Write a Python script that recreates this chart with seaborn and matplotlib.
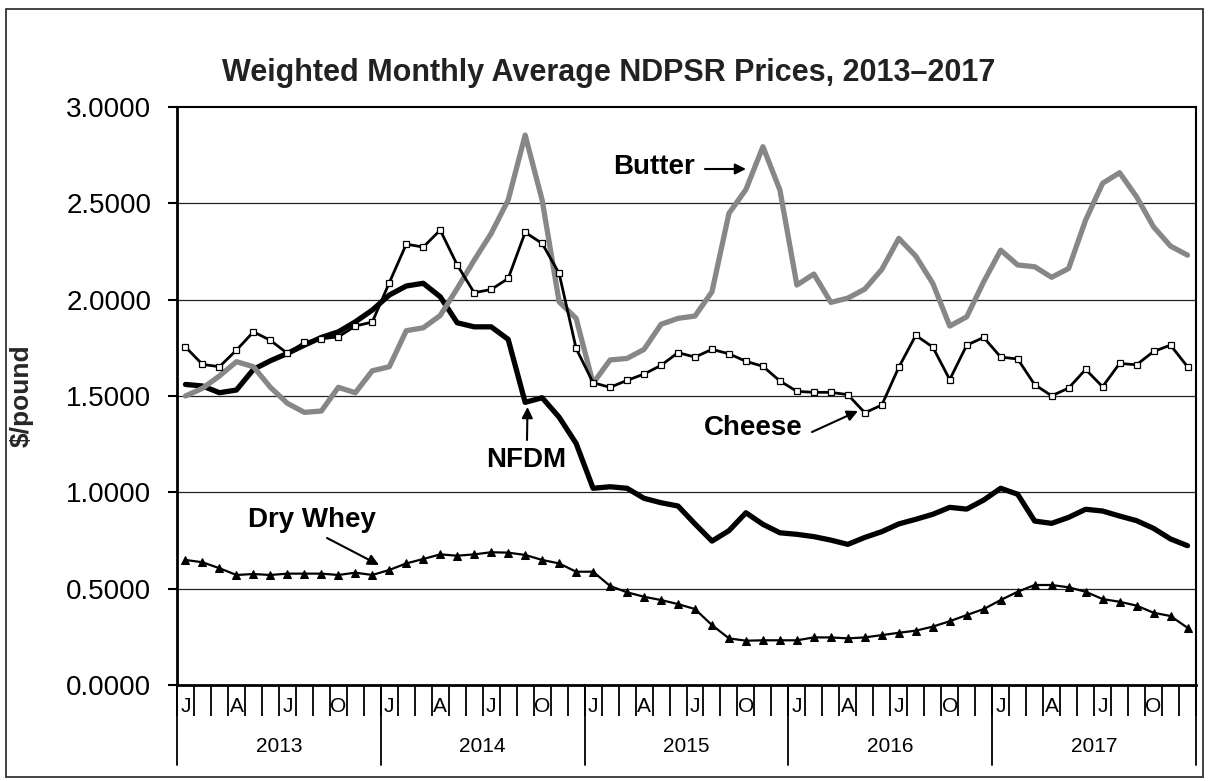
import matplotlib
matplotlib.use("Agg")
import matplotlib.pyplot as plt
import matplotlib.transforms as mtransforms
from matplotlib.lines import Line2D
from matplotlib.patches import Rectangle
import numpy as np
import pandas as pd
import seaborn as sns

# ---------------- data ----------------
years = ["2013", "2014", "2015", "2016", "2017"]
month_letters = ["J", "", "", "A", "", "", "J", "", "", "O", "", ""]

butter = [1.500, 1.540, 1.604, 1.678, 1.652, 1.545, 1.462, 1.415, 1.422, 1.545, 1.517, 1.631,
          1.652, 1.839, 1.854, 1.918, 2.058, 2.205, 2.344, 2.517, 2.854, 2.517, 1.989, 1.903,
          1.566, 1.687, 1.695, 1.742, 1.872, 1.903, 1.915, 2.041, 2.448, 2.572, 2.794, 2.569,
          2.076, 2.133, 1.986, 2.008, 2.055, 2.157, 2.318, 2.226, 2.085, 1.863, 1.911, 2.093,
          2.257, 2.180, 2.171, 2.116, 2.162, 2.413, 2.604, 2.659, 2.534, 2.378, 2.278, 2.231]

cheese = [1.754, 1.664, 1.652, 1.738, 1.833, 1.789, 1.721, 1.778, 1.797, 1.807, 1.863, 1.884,
          2.088, 2.288, 2.273, 2.361, 2.180, 2.036, 2.053, 2.110, 2.349, 2.292, 2.136, 1.747,
          1.569, 1.545, 1.581, 1.614, 1.659, 1.725, 1.702, 1.742, 1.719, 1.680, 1.654, 1.578,
          1.524, 1.519, 1.519, 1.507, 1.413, 1.453, 1.649, 1.815, 1.754, 1.585, 1.764, 1.804,
          1.702, 1.692, 1.559, 1.501, 1.541, 1.638, 1.548, 1.669, 1.662, 1.731, 1.764, 1.652]

nfdm = [1.560, 1.552, 1.517, 1.531, 1.638, 1.683, 1.721, 1.764, 1.804, 1.833, 1.885, 1.946,
        2.024, 2.071, 2.085, 2.015, 1.880, 1.859, 1.859, 1.794, 1.467, 1.491, 1.390, 1.254,
        1.021, 1.029, 1.021, 0.969, 0.946, 0.929, 0.836, 0.747, 0.801, 0.894, 0.834, 0.790,
        0.782, 0.770, 0.752, 0.730, 0.766, 0.796, 0.836, 0.860, 0.886, 0.922, 0.913, 0.960,
        1.021, 0.990, 0.851, 0.839, 0.870, 0.912, 0.903, 0.877, 0.853, 0.813, 0.758, 0.723]

dry_whey = [0.649, 0.637, 0.606, 0.571, 0.576, 0.571, 0.578, 0.578, 0.578, 0.571, 0.583, 0.571,
            0.597, 0.631, 0.654, 0.678, 0.671, 0.678, 0.689, 0.687, 0.675, 0.649, 0.631, 0.588,
            0.588, 0.514, 0.481, 0.458, 0.441, 0.420, 0.394, 0.311, 0.242, 0.230, 0.232, 0.232,
            0.232, 0.247, 0.247, 0.242, 0.247, 0.259, 0.271, 0.282, 0.303, 0.331, 0.363, 0.394,
            0.441, 0.484, 0.519, 0.519, 0.507, 0.484, 0.446, 0.432, 0.412, 0.375, 0.358, 0.297]

yticks = [0.0, 0.5, 1.0, 1.5, 2.0, 2.5, 3.0]
title = "Weighted Monthly Average NDPSR Prices, 2013\u20132017"

n = len(butter)
months = np.arange(n)
df = pd.DataFrame({"month": months, "Butter": butter, "Cheese": cheese,
                   "NFDM": nfdm, "Dry Whey": dry_whey})

# ---------------- style ----------------
sns.set_theme(style="white")
plt.rcParams["font.family"] = ["Liberation Sans", "DejaVu Sans"]

W, H = 1209, 781
fig = plt.figure(figsize=(W / 100, H / 100), dpi=100)
fig.patch.set_facecolor("white")
ax = fig.add_axes([177 / W, (H - 685) / H, 1019 / W, 578 / H])
ax.set_facecolor("white")

# figure border
fig.patches.append(Rectangle((6 / W, (H - 777) / H), 1197 / W, 768 / H,
                             transform=fig.transFigure, fill=False,
                             edgecolor="#333333", linewidth=1.3))

# gridlines
for yv in yticks[1:-1]:
    ax.axhline(yv, color="#222222", linewidth=0.9, zorder=1)

# series
sns.lineplot(data=df, x="month", y="NFDM", ax=ax, color="black",
             linewidth=3.8, zorder=3, legend=False)
sns.lineplot(data=df, x="month", y="Butter", ax=ax, color="#878787",
             linewidth=3.8, zorder=4, legend=False)
sns.lineplot(data=df, x="month", y="Cheese", ax=ax, color="black",
             linewidth=2.0, marker="s", markersize=4.6,
             markerfacecolor="white", markeredgecolor="black",
             markeredgewidth=0.9, zorder=5, legend=False)
sns.lineplot(data=df, x="month", y="Dry Whey", ax=ax, color="black",
             linewidth=1.6, marker="^", markersize=5.5,
             markerfacecolor="black", markeredgecolor="black",
             zorder=5, legend=False)

ax.set_xlim(-0.5, n - 0.5)
ax.set_ylim(0, 3)

# spines
for side, lw in [("left", 2.0), ("bottom", 2.0), ("top", 1.5), ("right", 1.5)]:
    ax.spines[side].set_visible(True)
    ax.spines[side].set_color("black")
    ax.spines[side].set_linewidth(lw)

# y axis
ax.set_yticks(yticks)
ax.set_yticklabels([f"{v:.4f}" for v in yticks], fontsize=20)
ax.tick_params(axis="y", direction="out", length=6.5, width=1.5,
               color="black", pad=12, left=True, labelcolor="black")
ax.set_ylabel("$/pound", fontsize=19, fontweight="bold", labelpad=14)
ax.yaxis.set_label_coords(-0.245 + 0.0, 0.5)
ax.yaxis.label.set_position((0, 0.5))
ax.yaxis.set_label_coords(-(177 - 34) / 1019, 0.5)

# x axis: month labels at centers, boundary ticks as minor
ax.set_xticks(months)
ax.set_xticklabels([month_letters[i % 12] for i in months], fontsize=15)
ax.tick_params(axis="x", which="major", length=0, pad=9, labelcolor="black")
ax.set_xticks(np.arange(-0.5, n, 1.0), minor=True)
ax.tick_params(axis="x", which="minor", direction="out", length=22.5,
               width=1.3, color="black", bottom=True)

trans = mtransforms.blended_transform_factory(ax.transData, ax.transAxes)
for k in range(len(years) + 1):
    xb = k * 12 - 0.5
    ax.add_line(Line2D([xb, xb], [0, -(765 - 685) / 578], transform=trans,
                       color="black", linewidth=1.3, clip_on=False))
for k, yr in enumerate(years):
    ax.text(k * 12 + 5.5, -(746 - 685) / 578, yr, transform=trans,
            ha="center", va="center", fontsize=15, color="black")

ax.set_xlabel("")

# title
fig.text(609 / W, (H - 73) / H, title, ha="center", va="center",
         fontsize=22, fontweight="bold", color="#222222")

# annotations
def px2data(px, py):
    return ((px - 177) / (1019 / n)) - 0.5, (685 - py) / (578 / 3)

ann_font = dict(fontsize=20, fontweight="bold", color="black",
                ha="center", va="center")
labels = [("Butter", (654, 167), (705, 169), (746, 169)),
          ("Cheese", (753, 428), (812, 432), (858, 411)),
          ("NFDM", (526, 460), (527, 440), (527.5, 407)),
          ("Dry Whey", (312, 520), (327, 538), (379, 565))]
for text, tpos, a0, a1 in labels:
    ax.text(*px2data(*tpos), text, **ann_font, zorder=6)
    ax.annotate("", xy=px2data(*a1), xytext=px2data(*a0),
                arrowprops=dict(arrowstyle="-|>", color="black", lw=1.5,
                                mutation_scale=16, shrinkA=0, shrinkB=0),
                zorder=6)

fig.savefig("out.png", dpi=100)
